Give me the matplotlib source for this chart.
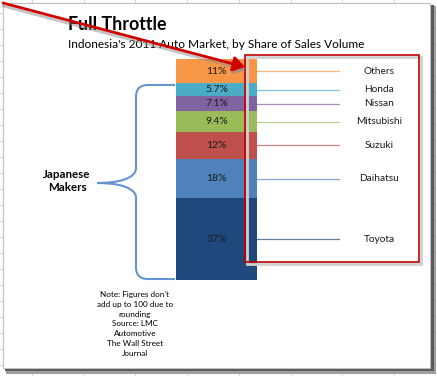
import numpy as np
import matplotlib
matplotlib.use('Agg')
import matplotlib.pyplot as plt
from matplotlib.patches import Rectangle, FancyArrowPatch, PathPatch
from matplotlib.path import Path
import matplotlib.transforms as mtransforms

plt.rcParams['font.family'] = ['Lato', 'DejaVu Sans']

# data, bottom segment first
makers = ['Toyota', 'Daihatsu', 'Suzuki', 'Mitsubishi', 'Nissan', 'Honda', 'Others']
shares = [37, 18, 12, 9.4, 7.1, 5.7, 11]
share_labels = ['37%', '18%', '12%', '9.4%', '7.1%', '5.7%', '11%']
colors = ['#1F497D', '#4F81BD', '#C0504D', '#9BBB59', '#8064A2', '#4BACC6', '#F79646']

W, H = 437, 376
fig = plt.figure(figsize=(W / 100, H / 100), dpi=100)


def px_axes(x0, y0, x1, y1, z):
    # axes placed by pixel box (top-left origin)
    a = fig.add_axes([x0 / W, 1 - y1 / H, (x1 - x0) / W, (y1 - y0) / H], zorder=z)
    return a


# background: spreadsheet grid + chart box
bg = px_axes(0, 0, W, H, 0)
bg.set_xlim(0, W)
bg.set_ylim(H, 0)
bg.axis('off')
for gx in np.arange(32, W, 51.7):
    bg.plot([gx, gx], [0, H], color='#D0D7E5', lw=0.7, zorder=0)
for gy in np.arange(13, H, 16):
    bg.plot([0, W], [gy, gy], color='#D0D7E5', lw=0.7, zorder=0)
# shadow
bg.add_patch(Rectangle((6, 6), 430, 368, facecolor='#a0a0a0', edgecolor='none', zorder=1))
bg.add_patch(Rectangle((5, 5), 428.5, 366, facecolor='#5a5a5a', edgecolor='none', zorder=1))
bg.add_patch(Rectangle((3, 3), 427, 365, facecolor='white', edgecolor='#BFBFBF', lw=0.8, zorder=1))

bg.text(68, 25, 'Full Throttle', fontsize=12.8, fontweight='bold', va='center', ha='left', color='black')
bg.text(68, 44, "Indonesia's 2011 Auto Market, by Share of Sales Volume", fontsize=8.6,
        va='center', ha='left', color='black')

# brace
verts = [(175, 85), (148, 85), (140, 85), (136, 89), (136, 97), (136, 168),
         (136, 178), (120, 183), (97, 183), (120, 183), (136, 188), (136, 198),
         (136, 267), (136, 275), (140, 279), (148, 279), (175, 279)]
codes = [Path.MOVETO, Path.LINETO, Path.CURVE4, Path.CURVE4, Path.CURVE4, Path.LINETO,
         Path.CURVE4, Path.CURVE4, Path.CURVE4, Path.CURVE4, Path.CURVE4, Path.CURVE4,
         Path.LINETO, Path.CURVE4, Path.CURVE4, Path.CURVE4, Path.LINETO]
bg.add_patch(PathPatch(Path(verts, codes), facecolor='none', edgecolor='#6495D3', lw=1.5, zorder=2))
bg.text(67, 181, 'Japanese\nMakers', fontsize=8.3, fontweight='bold', ha='center', va='center',
        linespacing=1.25)
bg.text(135, 324, "Note: Figures don't\nadd up to 100 due to\nrounding\nSource: LMC\nAutomotive\n"
        "The Wall Street\nJournal", fontsize=5.9, ha='center', va='center', linespacing=1.5)

# stacked bar
ax = px_axes(176, 59, 257, 280, 1)
ax.axis('off')
total = sum(shares)
bottoms = np.concatenate([[0], np.cumsum(shares)[:-1]])
ax.bar(0, shares, bottom=bottoms, width=1, color=colors, edgecolor='none')
ax.set_xlim(-0.5, 0.5)
ax.set_ylim(0, total)
trans = mtransforms.blended_transform_factory(ax.transAxes, ax.transData)
for name, val, lab, b, c in zip(makers, shares, share_labels, bottoms, colors):
    mid = b + val / 2
    ax.text(0, mid, lab, fontsize=7.5, ha='center', va='center', color='#1a1a1a')
    ax.plot([1, 2.01], [mid, mid], transform=trans, color=c, alpha=0.7, lw=0.9, clip_on=False)
    ax.text(2.51, mid, name, transform=trans, fontsize=7.3, ha='center', va='center',
            color='#1a1a1a', clip_on=False)

# foreground annotations: red box and arrow
fg = px_axes(0, 0, W, H, 2)
fg.set_xlim(0, W)
fg.set_ylim(H, 0)
fg.axis('off')
fg.add_patch(Rectangle((247, 57), 174, 207, facecolor='none', edgecolor='#d0d0d0', lw=2))
fg.add_patch(Rectangle((245, 55), 174, 207, facecolor='none', edgecolor='#C00000', lw=1.2))
fg.add_patch(FancyArrowPatch((3, 6), (246, 70), arrowstyle='-|>,head_length=7,head_width=4.5',
                             color='#8a8a8a', lw=2, alpha=0.5, shrinkA=0, shrinkB=0))
fg.add_patch(FancyArrowPatch((3, 3), (245, 67), arrowstyle='-|>,head_length=7,head_width=4.5',
                             color='#D00000', lw=2, shrinkA=0, shrinkB=0))

fig.savefig('out.png', dpi=100)
